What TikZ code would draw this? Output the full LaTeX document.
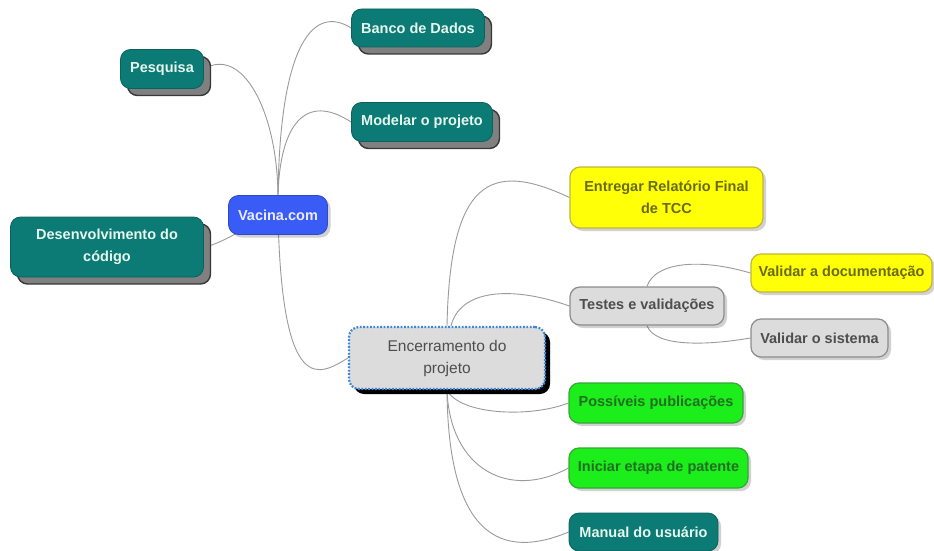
\documentclass[tikz,border=0pt]{standalone}
\usepackage{fontspec}
\setmainfont{Liberation Sans}
\usetikzlibrary{shadows,backgrounds}
\definecolor{tealc}{HTML}{0C7A75}
\definecolor{tealtext}{HTML}{E6F7EE}
\definecolor{bluec}{HTML}{3A5CF6}
\definecolor{yelc}{HTML}{FFFF08}
\definecolor{yelborder}{HTML}{C2B43C}
\definecolor{yeltext}{HTML}{6A6A14}
\definecolor{greenc}{HTML}{1BEE1B}
\definecolor{greenborder}{HTML}{35A835}
\definecolor{greentext}{HTML}{236E23}
\definecolor{greyc}{HTML}{DCDCDC}
\definecolor{greyborder}{HTML}{8C8C8C}
\definecolor{greytext}{HTML}{4E4E4E}
\definecolor{linkc}{HTML}{9A9A9A}
\definecolor{dotblue}{HTML}{3F86DA}
\begin{document}
\begin{tikzpicture}[x=1pt,y=-1pt,
  base/.style={rounded corners=10pt, align=center, inner sep=0pt, line width=0.8pt,
    font=\fontsize{14.5}{21.5}\selectfont\bfseries},
  heavyshadow/.style={general shadow={shadow xshift=7pt, shadow yshift=-7pt,
    fill=black!50, draw=black!78, line width=1.4pt}},
  softshadow/.style={general shadow={shadow xshift=3pt, shadow yshift=-3pt,
    fill=black, opacity=0.18, draw=none}},
  tealbox/.style={base, heavyshadow, fill=tealc, draw=tealc!80!black, text=tealtext},
  tealsoft/.style={base, softshadow, fill=tealc, draw=tealc!80!black, text=tealtext},
  bluebox/.style={base, softshadow, fill=bluec, draw=bluec!80!black, text=white!92!blue},
  yelbox/.style={base, softshadow, fill=yelc, draw=yelborder, line width=1.2pt, text=yeltext},
  greenbox/.style={base, softshadow, fill=greenc, draw=greenborder, line width=1.2pt, text=greentext},
  greybox/.style={base, softshadow, fill=greyc, draw=greyborder, line width=1.2pt, text=greytext},
  endbox/.style={base, general shadow={shadow xshift=5pt, shadow yshift=-5pt, fill=black, draw=none},
    fill=greyc, draw=dotblue, line width=2.2pt, dash pattern=on 1.8pt off 1.6pt,
    text=greytext, font=\fontsize{15.5}{22}\selectfont},
  link/.style={draw=linkc, line width=0.9pt}
]
\useasboundingbox (0,0) rectangle (934,551);

% nodes
\node[bluebox, minimum width=99pt, minimum height=39pt] (vac) at (278,215) {Vacina.com};
\node[tealbox, minimum width=133pt, minimum height=38pt] (banco) at (418,28) {Banco de Dados};
\node[tealbox, minimum width=83pt, minimum height=39pt] (pesq) at (162,69) {Pesquisa};
\node[tealbox, minimum width=141pt, minimum height=39pt] (model) at (422,122) {Modelar o projeto};
\node[tealbox, minimum width=193pt, minimum height=60pt] (desenv) at (107,247) {Desenvolvimento do\\c\'odigo};
\node[yelbox, minimum width=193pt, minimum height=61pt] (entregar) at (666.5,197.5) {Entregar Relat\'orio Final\\de TCC};
\node[yelbox, minimum width=181pt, minimum height=38pt] (valdoc) at (841.5,273) {Validar a documenta\c{c}\~ao};
\node[greybox, minimum width=154pt, minimum height=38pt] (testes) at (647,306) {Testes e valida\c{c}\~oes};
\node[greybox, minimum width=137pt, minimum height=38pt] (valsis) at (819.5,338) {Validar o sistema};
\node[endbox, minimum width=196pt, minimum height=62pt] (encer) at (447,358) {Encerramento do\\projeto};
\node[greenbox, minimum width=174pt, minimum height=40pt] (poss) at (656,403) {Poss\'iveis publica\c{c}\~oes};
\node[greenbox, minimum width=179pt, minimum height=40pt] (inic) at (658.5,468) {Iniciar etapa de patente};
\node[tealsoft, minimum width=149pt, minimum height=38pt] (manual) at (643.5,532) {Manual do usu\'ario};

% connectors
\begin{pgfonlayer}{background}
\path[link] (vac.north) .. controls (277,110) and (242,46) .. (pesq.east);
\path[link] (vac.north) .. controls (280,40) and (315,5) .. (banco.west);
\path[link] (vac.north) .. controls (280,125) and (305,92) .. (model.west);
\path[link] (desenv.east) .. controls (225,243) and (240,228) .. (vac.center);
\path[link] (vac.center) .. controls (282,400) and (320,375) .. (encer.west);
\path[link] (encer.north) .. controls (450,180) and (490,160) .. (entregar.west);
\path[link] ([xshift=4pt]encer.north) .. controls (460,290) and (510,285) .. (testes.west);
\path[link] (encer.south) .. controls (460,415) and (530,418) .. (poss.west);
\path[link] (encer.south) .. controls (450,470) and (510,500) .. (inic.west);
\path[link] (encer.south) .. controls (448,520) and (490,565) .. (manual.west);
\path[link] (testes.north) .. controls (655,262) and (700,258) .. (valdoc.west);
\path[link] (testes.south) .. controls (655,348) and (710,345) .. (valsis.west);
\end{pgfonlayer}
\end{tikzpicture}
\end{document}
